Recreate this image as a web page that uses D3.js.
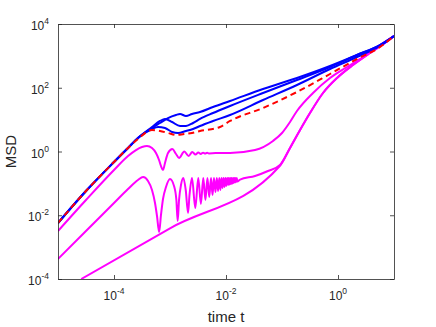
<!DOCTYPE html>
<html>
<head>
<meta charset="utf-8">
<script src="https://cdn.jsdelivr.net/npm/d3@7"></script>
<style>
  body { margin: 0; background: #fff; }
  svg { display: block; }
  text { font-family: "Liberation Sans", Arial, Helvetica, sans-serif; fill: #262626; }
</style>
</head>
<body>
<div id="chart"></div>
<script>
// tick values
const xTicks = [1e-4, 1e-2, 1e0];
const yTicks = [1e-4, 1e-2, 1e0, 1e2, 1e4];

// blue curves
const tBlueA = [1e-5, 3.16e-5, 1e-4, 1.78e-4, 2.68e-4, 4.77e-4, 6.63e-4, 9.21e-4, 1.28e-3, 1.51e-3, 1.93e-3, 2.47e-3, 3.43e-3, 5.86e-3, 1.18e-2, 4.58e-2, 0.185, 0.72, 2.18, 5.62, 10];
const msdBlueA = [5.71e-3, 0.0576, 0.468, 1.29, 2.65, 5.46, 7.84, 11.2, 14.0, 15.0, 13.0, 15.0, 17.3, 24.9, 38.4, 91, 202, 481, 1065, 2193, 4203];

const tBlueB = [1e-5, 3.16e-5, 1e-4, 1.78e-4, 2.68e-4, 4.77e-4, 6.63e-4, 8.14e-4, 1.09e-3, 1.51e-3, 1.93e-3, 2.58e-3, 3.43e-3, 5.86e-3, 1.18e-2, 4.58e-2, 0.185, 0.72, 2.18, 5.62, 10];
const msdBlueB = [5.71e-3, 0.0576, 0.468, 1.29, 2.65, 5.87, 9.06, 10.5, 8.42, 6.31, 6.31, 7.84, 10.5, 16.1, 26.8, 68.4, 175, 448, 1065, 2193, 4203];

const tBlueC = [1e-5, 3.16e-5, 1e-4, 1.78e-4, 2.68e-4, 4.77e-4, 6.11e-4, 8.14e-4, 1.09e-3, 1.39e-3, 1.93e-3, 2.58e-3, 3.43e-3, 5.86e-3, 1.18e-2, 4.58e-2, 0.185, 0.72, 2.18, 5.62, 10];
const msdBlueC = [5.71e-3, 0.0576, 0.468, 1.29, 2.65, 5.08, 5.87, 5.46, 4.09, 3.81, 4.40, 5.08, 6.31, 9.06, 14.0, 41.3, 122, 387, 922, 2041, 4203];

// red dashed curve
const tRed = [1e-5, 3.16e-5, 1e-4, 1.78e-4, 2.68e-4, 4.77e-4, 6.63e-4, 9.21e-4, 1.28e-3, 1.78e-3, 2.47e-3, 3.43e-3, 7.81e-3, 1.18e-2, 4.58e-2, 0.185, 0.72, 2.18, 5.62, 10];
const msdRed = [5.71e-3, 0.0576, 0.468, 1.29, 2.47, 4.73, 4.40, 3.81, 3.29, 3.54, 3.81, 4.40, 5.87, 9.06, 23.2, 73.6, 270, 798, 1898, 4203];

// magenta curves
const tMagUp = [1e-5, 3.16e-5, 1e-4, 1.78e-4, 2.47e-4, 3.16e-4, 3.88e-4, 4.77e-4, 5.62e-4, 6.37e-4, 6.9e-4, 7.5e-4, 8.14e-4, 9.21e-4, 1.1e-3, 1.28e-3, 1.45e-3, 1.8e-3, 2.15e-3, 2.5e-3, 2.85e-3, 3.2e-3, 3.55e-3, 3.9e-3, 4.25e-3, 4.6e-3, 4.95e-3, 6.5e-3, 1.18e-2, 3.3e-2, 6.9e-2, 0.1, 0.139, 0.185, 0.358, 0.72, 1.45, 2.79, 5.62, 10];
const msdMagUp = [3.21e-3, 0.0301, 0.263, 0.723, 1.11, 1.38, 1.49, 1.29, 0.897, 0.541, 0.351, 0.263, 0.436, 0.897, 1.20, 0.835, 0.625, 1.0, 0.723, 0.964, 0.805, 0.930, 0.835, 0.917, 0.859, 0.914, 0.87, 0.89, 0.897, 1.11, 2.14, 3.81, 8.42, 18.6, 68.4, 202, 448, 922, 2193, 4203];

const tMagMid = [1e-5, 3.16e-5, 1e-4, 1.78e-4, 2.68e-4, 3.3e-4, 4.05e-4, 4.77e-4, 5.4e-4, 5.86e-4, 6.4e-4, 6.9e-4, 7.5e-4, 8.48e-4, 1e-3, 1.18e-3, 1.3e-3, 1.37e-3, 1.45e-3, 1.57e-3, 1.73e-3, 1.91e-3, 2.1e-3, 2.23e-3, 2.47e-3, 2.83e-3, 3.2e-3, 3.56e-3, 3.93e-3, 4.29e-3, 4.66e-3, 5.02e-3, 5.4e-3, 5.75e-3, 6.1e-3, 6.48e-3, 6.85e-3, 7.21e-3, 7.6e-3, 7.94e-3, 8.3e-3, 8.67e-3, 9.0e-3, 9.4e-3, 9.75e-3, 1.01e-2, 1.05e-2, 1.09e-2, 1.12e-2, 1.16e-2, 1.19e-2, 1.23e-2, 1.26e-2, 1.30e-2, 1.34e-2, 1.37e-2, 1.41e-2, 1.45e-2, 1.48e-2, 1.52e-2, 1.56e-2, 1.59e-2, 1.78e-2, 3.3e-2, 5.62e-2, 9.21e-2, 0.139, 0.21, 0.316, 0.54, 0.96, 1.85, 3.73, 6.11, 10];
const msdMagMid = [4.24e-4, 3.21e-3, 0.0242, 0.0666, 0.128, 0.158, 0.119, 0.062, 0.0242, 9.47e-3, 2.98e-3, 0.0102, 0.0323, 0.077, 0.137, 0.0827, 0.0301, 6.6e-3, 0.0301, 0.0889, 0.147, 0.062, 0.0118, 0.0432, 0.147, 0.0169, 0.147, 0.0225, 0.147, 0.0301, 0.147, 0.0374, 0.147, 0.0432, 0.147, 0.0536, 0.147, 0.0576, 0.147, 0.062, 0.147, 0.0716, 0.147, 0.077, 0.147, 0.0827, 0.147, 0.0889, 0.147, 0.0921, 0.147, 0.0955, 0.147, 0.0991, 0.147, 0.1027, 0.147, 0.1066, 0.147, 0.1104, 0.147, 0.1146, 0.132, 0.17, 0.244, 0.377, 1.29, 4.73, 16.1, 68.4, 202, 517, 1231, 2193, 4203];

const tMagLow = [2.6e-5, 1e-3, 9.21e-2, 0.139, 0.21, 0.316, 0.54, 0.96, 1.85, 3.73, 6.11, 10];
const msdMagLow = [1e-4, 3.89e-3, 0.358, 1.29, 4.73, 16.1, 68.4, 202, 517, 1231, 2193, 4203];

const width = 436;
const height = 327;
const margin = { top: 24, right: 42, bottom: 48, left: 58 };

const svg = d3.select('#chart').append('svg')
  .attr('width', width)
  .attr('height', height);

const x = d3.scaleLog()
  .domain([1e-5, 10])
  .range([margin.left, width - margin.right]);

const y = d3.scaleLog()
  .domain([1e-4, 1e4])
  .range([height - margin.bottom, margin.top]);

svg.append('clipPath').attr('id', 'plot-clip')
  .append('rect')
  .attr('x', margin.left)
  .attr('y', margin.top)
  .attr('width', width - margin.left - margin.right)
  .attr('height', height - margin.top - margin.bottom);

const line = d3.line()
  .x(d => x(d[0]))
  .y(d => y(d[1]))
  .curve(d3.curveMonotoneX);

const series = [
  { t: tMagLow, v: msdMagLow, color: '#ff00ff' },
  { t: tMagMid, v: msdMagMid, color: '#ff00ff' },
  { t: tMagUp, v: msdMagUp, color: '#ff00ff' },
  { t: tBlueC, v: msdBlueC, color: '#0000ff' },
  { t: tBlueB, v: msdBlueB, color: '#0000ff' },
  { t: tBlueA, v: msdBlueA, color: '#0000ff' },
  { t: tRed, v: msdRed, color: '#ff0000', dash: '6,4' },
];

const plot = svg.append('g').attr('clip-path', 'url(#plot-clip)');

plot.selectAll('path')
  .data(series)
  .enter().append('path')
  .attr('fill', 'none')
  .attr('stroke', d => d.color)
  .attr('stroke-width', 2)
  .attr('stroke-dasharray', d => d.dash || null)
  .attr('d', d => line(d.t.map((t, i) => [t, d.v[i]])));

// box axes, ticks pointing inward
const axes = [
  { axis: d3.axisBottom(x).tickValues(xTicks), tr: `translate(0,${height - margin.bottom})` },
  { axis: d3.axisTop(x).tickValues(xTicks), tr: `translate(0,${margin.top})` },
  { axis: d3.axisLeft(y).tickValues(yTicks), tr: `translate(${margin.left},0)` },
  { axis: d3.axisRight(y).tickValues(yTicks), tr: `translate(${width - margin.right},0)` },
];

axes.forEach(a => {
  const g = svg.append('g')
    .attr('transform', a.tr)
    .call(a.axis.tickSize(-4).tickSizeOuter(0).tickFormat(''));
  g.selectAll('path, line').attr('stroke', '#262626').attr('stroke-width', 0.8);
  g.selectAll('text').remove();
});

const exponent = v => String(Math.round(Math.log10(v)));

xTicks.forEach(v => {
  const label = svg.append('text')
    .attr('x', x(v))
    .attr('y', 300)
    .attr('text-anchor', 'middle')
    .attr('font-size', 12);
  label.append('tspan').text('10');
  label.append('tspan').attr('dy', -6).attr('font-size', 8.5).text(exponent(v));
});

yTicks.forEach(v => {
  const label = svg.append('text')
    .attr('x', 49)
    .attr('y', y(v) + 6)
    .attr('text-anchor', 'end')
    .attr('font-size', 12);
  label.append('tspan').text('10');
  label.append('tspan').attr('dy', -6).attr('font-size', 8.5).text(exponent(v));
});

svg.append('text')
  .attr('x', (margin.left + width - margin.right) / 2)
  .attr('y', 322)
  .attr('text-anchor', 'middle')
  .attr('font-size', 15)
  .text('time t');

svg.append('text')
  .attr('transform', `translate(16,${(margin.top + height - margin.bottom) / 2}) rotate(-90)`)
  .attr('text-anchor', 'middle')
  .attr('font-size', 15)
  .text('MSD');
</script>
</body>
</html>
